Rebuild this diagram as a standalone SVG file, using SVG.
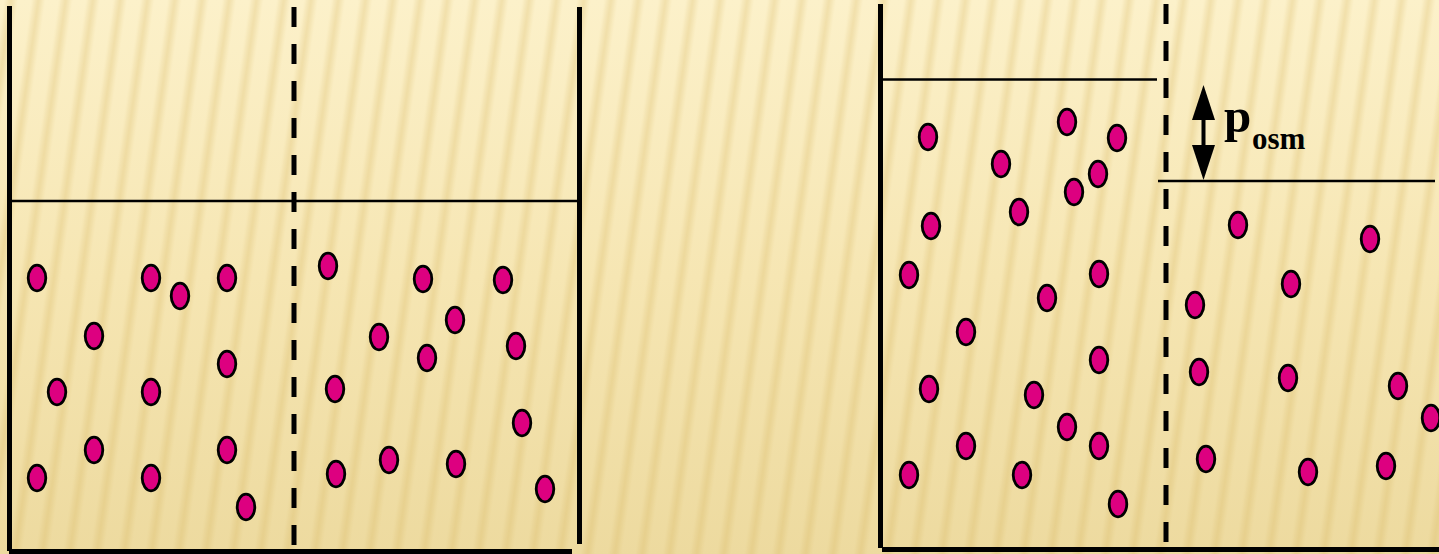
<svg xmlns="http://www.w3.org/2000/svg" width="1439" height="554" viewBox="0 0 1439 554">
<defs>
<linearGradient id="bg" x1="0" y1="0" x2="0" y2="1">
<stop offset="0" stop-color="#FCF1CA"/>
<stop offset="0.5" stop-color="#F6E6B3"/>
<stop offset="1" stop-color="#EDDA9F"/>
</linearGradient>
<linearGradient id="stripeg" x1="0" y1="0" x2="1" y2="0">
<stop offset="0" stop-color="#D4B25A" stop-opacity="0"/>
<stop offset="0.5" stop-color="#D4B25A" stop-opacity="0.28"/>
<stop offset="1" stop-color="#D4B25A" stop-opacity="0"/>
</linearGradient>
<pattern id="stripes" width="27" height="60" patternUnits="userSpaceOnUse" patternTransform="rotate(8)">
<rect x="4" y="0" width="14" height="60" fill="url(#stripeg)"/>
</pattern>
<style>
.wall{stroke:#000;stroke-width:5;fill:none}
.lvl{stroke:#000;stroke-width:2.5;fill:none}
.mem{stroke:#000;stroke-width:5;fill:none;stroke-dasharray:20 17}
.p{fill:#DD0080;stroke:#000;stroke-width:2.8}
.lbl{font-family:"Liberation Serif","Times New Roman",serif;font-weight:bold;fill:#000}
</style>
</defs>
<rect width="1439" height="554" fill="url(#bg)"/>
<rect width="1439" height="554" fill="url(#stripes)"/>

<g id="left-container">
<line class="wall" x1="9.5" y1="6" x2="9.5" y2="551"/>
<line class="wall" x1="579.5" y1="7" x2="579.5" y2="544"/>
<line class="wall" x1="9" y1="551.5" x2="572" y2="551.5"/>
<line class="lvl" x1="12" y1="201" x2="578" y2="201"/>
<line class="mem" x1="294" y1="7" x2="294" y2="551"/>
</g>

<g id="right-container">
<line class="wall" x1="880.5" y1="4" x2="880.5" y2="548"/>
<line class="wall" x1="882" y1="549.5" x2="1439" y2="549.5"/>
<line class="lvl" x1="883" y1="79.5" x2="1157" y2="79.5"/>
<line class="lvl" x1="1158" y1="181" x2="1435" y2="181"/>
<line class="mem" x1="1166" y1="4" x2="1166" y2="549"/>
</g>

<g id="left-particles">
<ellipse class="p" cx="37" cy="278" rx="8.8" ry="12.8"/>
<ellipse class="p" cx="151" cy="278" rx="8.8" ry="12.8"/>
<ellipse class="p" cx="180" cy="296" rx="8.8" ry="12.8"/>
<ellipse class="p" cx="227" cy="278" rx="8.8" ry="12.8"/>
<ellipse class="p" cx="94" cy="336" rx="8.8" ry="12.8"/>
<ellipse class="p" cx="227" cy="364" rx="8.8" ry="12.8"/>
<ellipse class="p" cx="57" cy="392" rx="8.8" ry="12.8"/>
<ellipse class="p" cx="151" cy="392" rx="8.8" ry="12.8"/>
<ellipse class="p" cx="94" cy="450" rx="8.8" ry="12.8"/>
<ellipse class="p" cx="227" cy="450" rx="8.8" ry="12.8"/>
<ellipse class="p" cx="37" cy="478" rx="8.8" ry="12.8"/>
<ellipse class="p" cx="151" cy="478" rx="8.8" ry="12.8"/>
<ellipse class="p" cx="246" cy="507" rx="8.8" ry="12.8"/>
<ellipse class="p" cx="328" cy="266" rx="8.8" ry="12.8"/>
<ellipse class="p" cx="423" cy="279" rx="8.8" ry="12.8"/>
<ellipse class="p" cx="503" cy="280" rx="8.8" ry="12.8"/>
<ellipse class="p" cx="455" cy="320" rx="8.8" ry="12.8"/>
<ellipse class="p" cx="379" cy="337" rx="8.8" ry="12.8"/>
<ellipse class="p" cx="427" cy="358" rx="8.8" ry="12.8"/>
<ellipse class="p" cx="516" cy="346" rx="8.8" ry="12.8"/>
<ellipse class="p" cx="335" cy="389" rx="8.8" ry="12.8"/>
<ellipse class="p" cx="522" cy="423" rx="8.8" ry="12.8"/>
<ellipse class="p" cx="389" cy="460" rx="8.8" ry="12.8"/>
<ellipse class="p" cx="336" cy="474" rx="8.8" ry="12.8"/>
<ellipse class="p" cx="456" cy="464" rx="8.8" ry="12.8"/>
<ellipse class="p" cx="545" cy="489" rx="8.8" ry="12.8"/>
</g>

<g id="right-particles">
<ellipse class="p" cx="928" cy="137" rx="8.8" ry="12.8"/>
<ellipse class="p" cx="1067" cy="122" rx="8.8" ry="12.8"/>
<ellipse class="p" cx="1117" cy="138" rx="8.8" ry="12.8"/>
<ellipse class="p" cx="1001" cy="164" rx="8.8" ry="12.8"/>
<ellipse class="p" cx="1098" cy="174" rx="8.8" ry="12.8"/>
<ellipse class="p" cx="1074" cy="192" rx="8.8" ry="12.8"/>
<ellipse class="p" cx="1019" cy="212" rx="8.8" ry="12.8"/>
<ellipse class="p" cx="931" cy="226" rx="8.8" ry="12.8"/>
<ellipse class="p" cx="909" cy="275" rx="8.8" ry="12.8"/>
<ellipse class="p" cx="1099" cy="274" rx="8.8" ry="12.8"/>
<ellipse class="p" cx="1047" cy="298" rx="8.8" ry="12.8"/>
<ellipse class="p" cx="966" cy="332" rx="8.8" ry="12.8"/>
<ellipse class="p" cx="1099" cy="360" rx="8.8" ry="12.8"/>
<ellipse class="p" cx="929" cy="389" rx="8.8" ry="12.8"/>
<ellipse class="p" cx="1034" cy="395" rx="8.8" ry="12.8"/>
<ellipse class="p" cx="1067" cy="427" rx="8.8" ry="12.8"/>
<ellipse class="p" cx="966" cy="446" rx="8.8" ry="12.8"/>
<ellipse class="p" cx="1099" cy="446" rx="8.8" ry="12.8"/>
<ellipse class="p" cx="909" cy="475" rx="8.8" ry="12.8"/>
<ellipse class="p" cx="1022" cy="475" rx="8.8" ry="12.8"/>
<ellipse class="p" cx="1118" cy="504" rx="8.8" ry="12.8"/>
<ellipse class="p" cx="1238" cy="225" rx="8.8" ry="12.8"/>
<ellipse class="p" cx="1370" cy="239" rx="8.8" ry="12.8"/>
<ellipse class="p" cx="1291" cy="284" rx="8.8" ry="12.8"/>
<ellipse class="p" cx="1195" cy="305" rx="8.8" ry="12.8"/>
<ellipse class="p" cx="1199" cy="372" rx="8.8" ry="12.8"/>
<ellipse class="p" cx="1288" cy="378" rx="8.8" ry="12.8"/>
<ellipse class="p" cx="1398" cy="386" rx="8.8" ry="12.8"/>
<ellipse class="p" cx="1431" cy="418" rx="8.8" ry="12.8"/>
<ellipse class="p" cx="1206" cy="459" rx="8.8" ry="12.8"/>
<ellipse class="p" cx="1308" cy="472" rx="8.8" ry="12.8"/>
<ellipse class="p" cx="1386" cy="466" rx="8.8" ry="12.8"/>
</g>

<g id="connectors">
<line x1="1203.5" y1="105" x2="1203.5" y2="160" stroke="#000" stroke-width="4"/>
<polygon points="1203.5,85 1215,120 1192,120" fill="#000"/>
<polygon points="1203.5,180 1215,145 1192,145" fill="#000"/>
</g>

<g id="label-posm">
<text class="lbl" x="1224" y="132" font-size="49">p</text>
<text class="lbl" x="1252" y="149" font-size="31">osm</text>
</g>
</svg>
